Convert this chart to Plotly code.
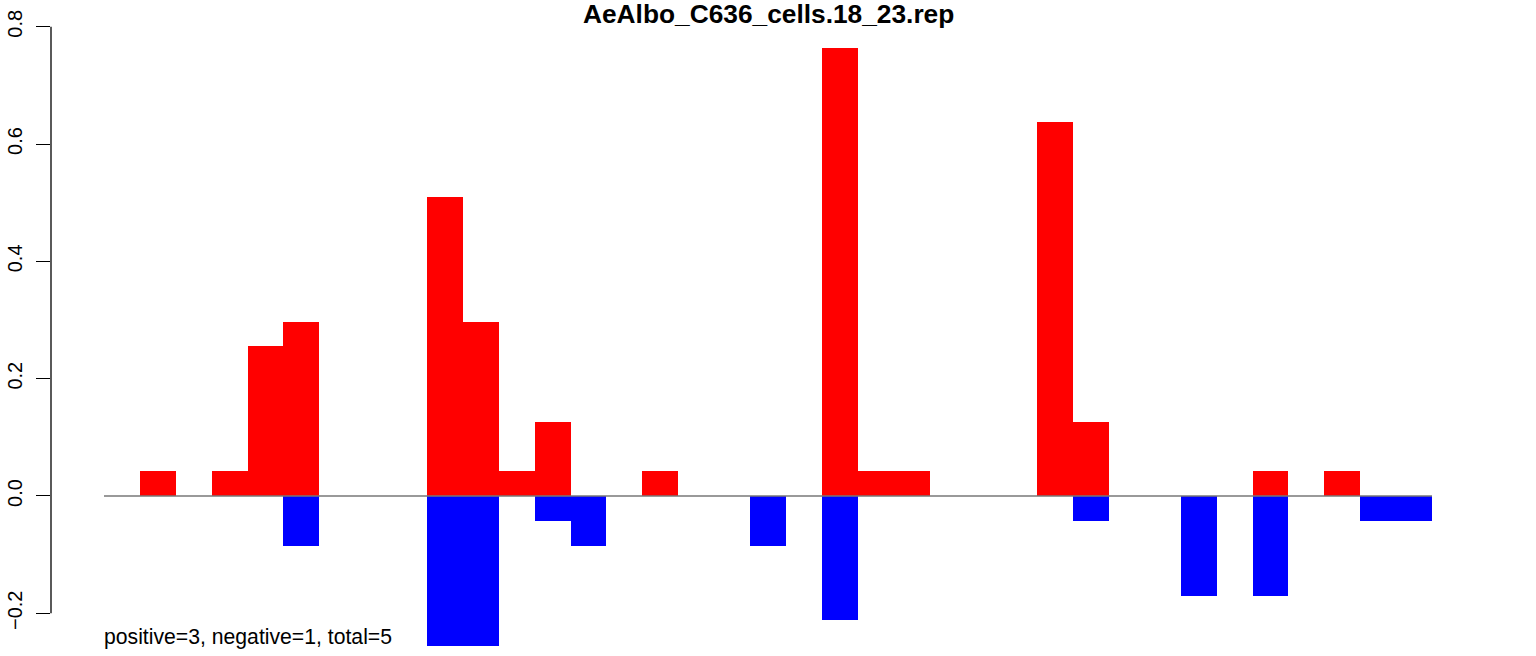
import plotly.graph_objects as go

title = "AeAlbo_C636_cells.18_23.rep"
note = "positive=3, negative=1, total=5"

positions = list(range(37))
pos_values = [0, 0.042, 0, 0.042, 0.255, 0.297, 0, 0, 0, 0.509, 0.297, 0.042, 0.127, 0, 0,
              0.042, 0, 0, 0, 0, 0.764, 0.042, 0.042, 0, 0, 0, 0.637, 0.127, 0, 0, 0, 0,
              0.042, 0, 0.042, 0, 0]
neg_values = [0, 0, 0, 0, 0, -0.085, 0, 0, 0, -0.255, -0.255, 0, -0.042, -0.085, 0,
              0, 0, 0, -0.085, 0, -0.212, 0, 0, 0, 0, 0, 0, -0.042, 0, 0, -0.17, 0,
              -0.17, 0, 0, -0.042, -0.042]

tick_vals = [-0.2, 0.0, 0.2, 0.4, 0.6, 0.8]
tick_text = ["\u22120.2", "0.0", "0.2", "0.4", "0.6", "0.8"]

FONT = "Liberation Sans, Arial, Helvetica, sans-serif"

fig = go.Figure()
fig.add_trace(go.Bar(x=positions, y=pos_values, width=1, marker=dict(color="#FF0000", line=dict(width=0)),
                     showlegend=False, hoverinfo="x+y"))
fig.add_trace(go.Bar(x=positions, y=neg_values, width=1, marker=dict(color="#0000FF", line=dict(width=0)),
                     showlegend=False, hoverinfo="x+y"))

# baseline
fig.add_shape(type="line", xref="x", yref="y", x0=positions[0] - 0.5, x1=positions[-1] + 0.5,
              y0=0, y1=0, line=dict(color="#777777", width=1.3), layer="above")
# y axis line spanning ticks only (R style)
fig.add_shape(type="line", xref="paper", yref="y", x0=0, x1=0, y0=tick_vals[0], y1=tick_vals[-1],
              line=dict(color="black", width=1.3))

fig.add_annotation(text="<b>" + title + "</b>", xref="paper", yref="paper", x=0.5, y=1,
                   yshift=1, xanchor="center", yanchor="middle", showarrow=False,
                   font=dict(family=FONT, size=26.3, color="black"))
fig.add_annotation(text=note, xref="x", yref="y", x=positions[0] - 0.5, y=-0.2404,
                   xanchor="left", yanchor="middle", showarrow=False, xshift=-2,
                   font=dict(family=FONT, size=21.2, color="black"))

fig.update_layout(
    width=1536, height=656,
    margin=dict(l=51, r=51, t=15, b=2, pad=0, autoexpand=False),
    paper_bgcolor="white", plot_bgcolor="white",
    barmode="overlay", bargap=0,
    xaxis=dict(range=[-1.976, 37.976], visible=False, fixedrange=True, automargin=False),
    yaxis=dict(range=[-0.2694, 0.8201], showgrid=False, zeroline=False, showline=False,
               automargin=False,
               tickmode="array", tickvals=tick_vals, ticktext=tick_text,
               ticks="outside", ticklen=14, tickwidth=1.3, tickcolor="black",
               tickangle=-90, ticklabelstandoff=6,
               tickfont=dict(family=FONT, size=20, color="black")),
    font=dict(family=FONT),
)

# remove the browser's default 8px page margin so the figure fills the window exactly
fig.write_html("out.html",
               config={"displayModeBar": False},
               post_script="document.body.style.margin='0';document.body.style.overflow='hidden';")
